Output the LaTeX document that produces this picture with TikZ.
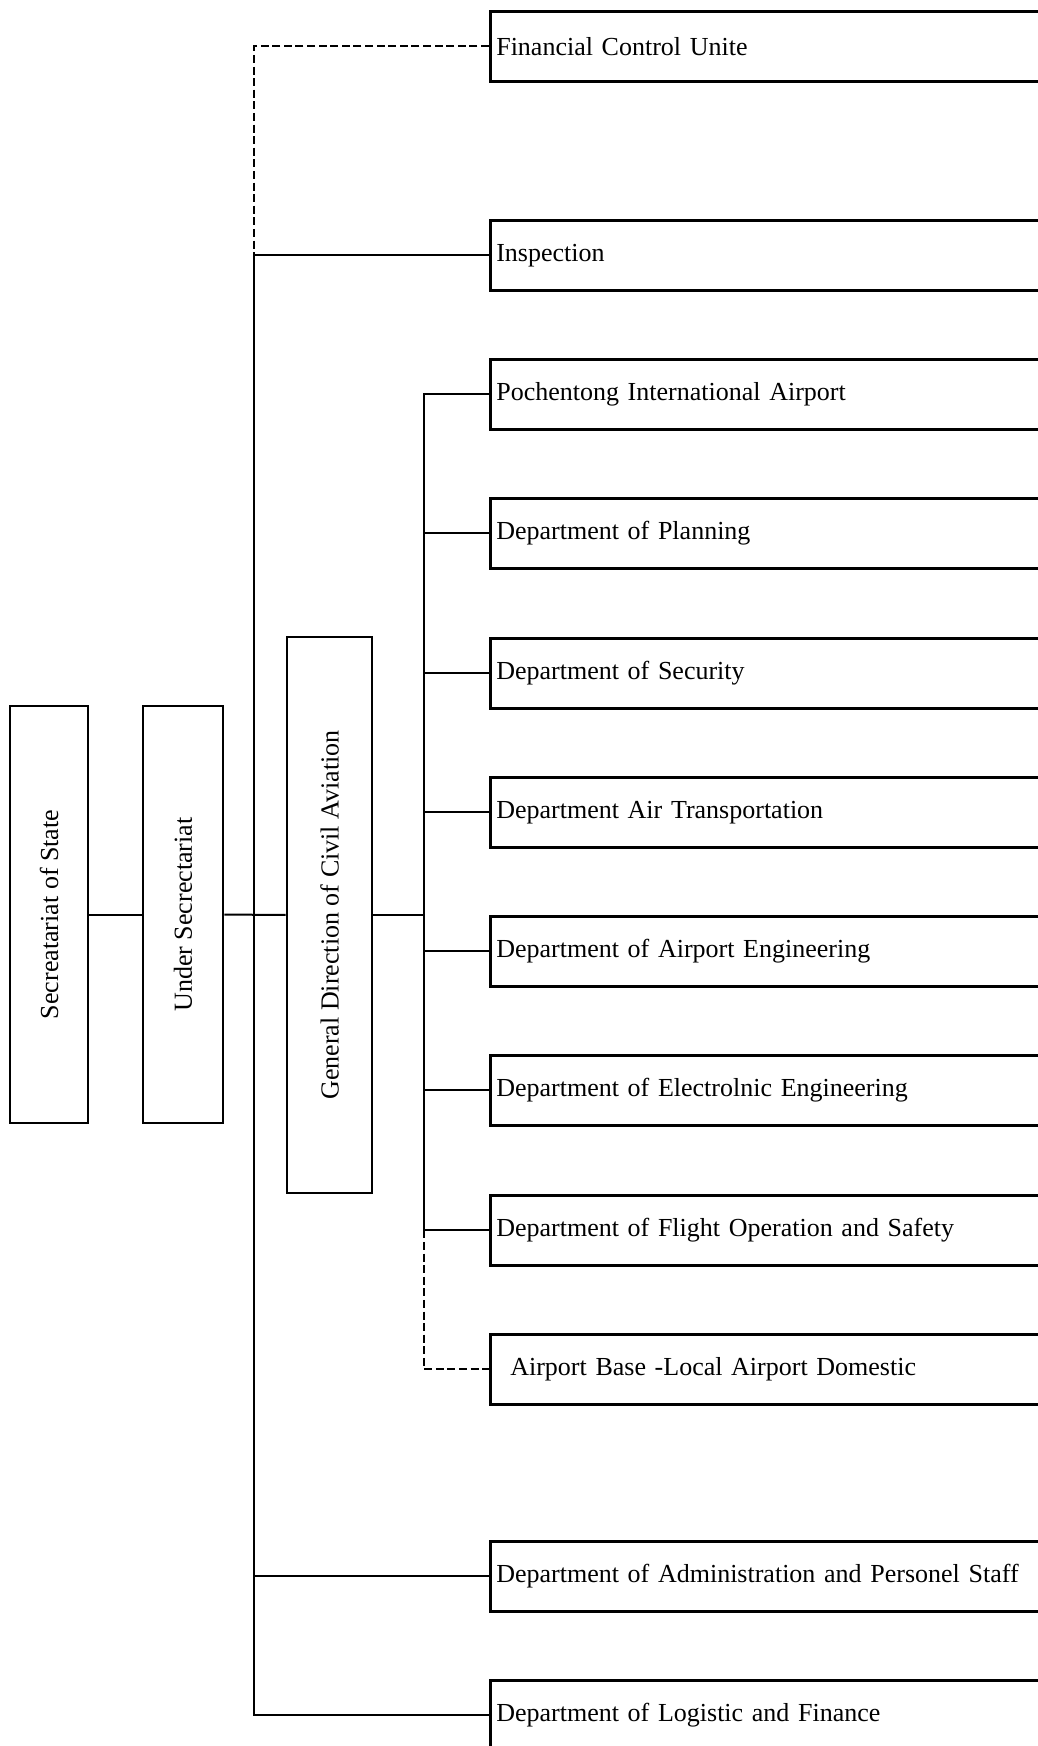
\documentclass[tikz,border=0pt]{standalone}
\usepackage{fontspec}
\setmainfont{Liberation Serif}

\tikzset{
  txt/.style={font=\fontsize{13}{15}\selectfont},
  vbox/.style={txt, draw, line width=1.3pt, rotate=90, inner sep=0pt},
  dbox/.style={txt, draw, line width=1.3pt, anchor=north west, text width=300pt,
    align=left, minimum height=35pt, inner xsep=3pt, inner ysep=0pt},
  conn/.style={line width=1pt},
  dashline/.style={line width=1pt, dash pattern=on 4pt off 1.8pt}
}

\begin{document}
\begin{tikzpicture}[x=0.5pt, y=-0.5pt]
    \useasboundingbox (0,0) rectangle (1038,1746);
    \clip (0,0) rectangle (1038,1746);

    % left column
    \node[vbox, minimum width=208.5pt, minimum height=39pt] (sos) at (49,914.5) {Secreatariat of State};
    \node[vbox, minimum width=208.5pt, minimum height=40pt] (usec) at (183,914.5) {Under Secrectariat};
    \node[vbox, minimum width=278pt, minimum height=42.5pt] (gdca) at (329.5,915) {General Direction of Civil Aviation};

    % units on the right
    \node[dbox] (fcu)  at (489,10)   {Financial Control Unite};
    \node[dbox] (insp) at (489,219)  {Inspection};
    \node[dbox] (pia)  at (489,358)  {Pochentong International Airport};
    \node[dbox] (dpl)  at (489,497)  {Department of Planning};
    \node[dbox] (dsec) at (489,637)  {Department of Security};
    \node[dbox] (dat)  at (489,776)  {Department Air Transportation};
    \node[dbox] (dae)  at (489,915)  {Department of Airport Engineering};
    \node[dbox] (dee)  at (489,1054) {Department of Electrolnic Engineering};
    \node[dbox] (dfo)  at (489,1194) {Department of Flight Operation and Safety};
    \node[dbox] (abd)  at (489,1333) {\hspace{7pt}Airport Base -Local Airport Domestic};
    \node[dbox] (das)  at (489,1540) {Department of Administration and Personel Staff};
    \node[dbox] (dlf)  at (489,1679) {Department of Logistic and Finance};

    \coordinate (j1) at (254,0);
    \coordinate (j2) at (424,0);

    \draw[conn] (sos) -- (usec);
    \draw[conn] (usec) -- (gdca);

    % main trunk
    \draw[dashline] (fcu.west) -| (j1 |- insp.west);
    \draw[conn] (insp.west) -| (j1 |- dlf.west) -- (dlf.west);
    \draw[conn] (j1 |- das.west) -- (das.west);

    % civil aviation trunk
    \draw[conn] (gdca) -- (gdca -| j2);
    \draw[conn] (pia.west) -| (j2 |- dfo.west);
    \foreach \n in {dpl,dsec,dat,dae,dee,dfo}
        \draw[conn] (j2 |- \n.west) -- (\n.west);
    \draw[dashline] (j2 |- dfo.west) |- (abd.west);

\end{tikzpicture}
\end{document}
